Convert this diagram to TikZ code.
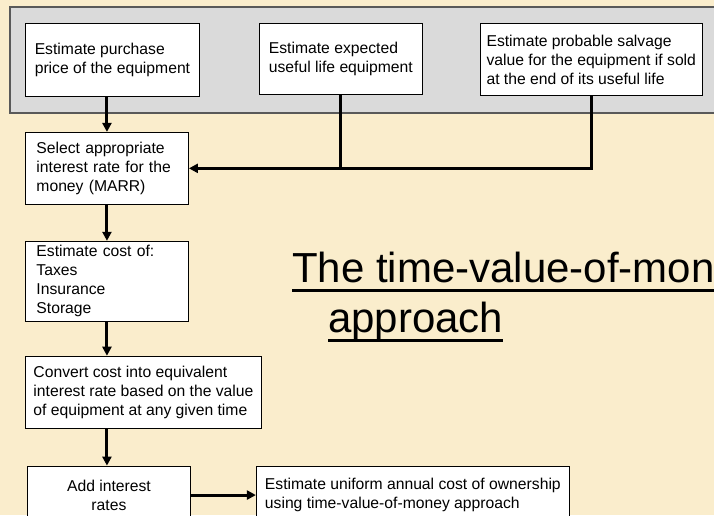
\documentclass[tikz,border=0pt]{standalone}
\usepackage{fontspec}
\setmainfont{Liberation Sans}
\usepackage{tikz}
\usetikzlibrary{arrows.meta,%
                shapes,positioning}
\usetikzlibrary{calc}

\definecolor{paper}{RGB}{250,237,204}
\definecolor{panelgray}{RGB}{218,218,218}
\newsavebox{\ulbox}
\newcommand{\ultext}[1]{\sbox{\ulbox}{#1}\rlap{\rule[-9.5pt]{\wd\ulbox}{3pt}}\usebox{\ulbox}}

\begin{document}
\begin{tikzpicture}[x=1pt, y=-1pt]
  \tikzset{BoxStyle/.style = {draw=black, line width=0.9pt, fill=white, shape=rectangle, inner xsep=6pt, inner ysep=3pt, align=left, anchor=north west, font=\fontsize{15.7}{19}\selectfont}}
  \tikzset{NarrowStyle/.style = {BoxStyle, text width=141pt, inner xsep=11pt}}
  \tikzset{PanelStyle/.style = {draw=black!65, line width=1.5pt, fill=panelgray}}
  \tikzset{TitleStyle/.style = {inner sep=0pt, align=left, anchor=north west, font=\fontsize{42}{50}\selectfont}}
  \tikzset{EdgeStyle/.style = {line width=3pt, -{Triangle[length=9pt, width=9pt]}}}
  \tikzset{LineStyle/.style = {line width=3pt}}

  \useasboundingbox (0,0) rectangle (714,515);
  \clip (0,0) rectangle (714,515);
  \fill[paper] (0,0) rectangle (714,515);
  \draw[PanelStyle] (10,7) rectangle (730,113);

  \node(in1)[BoxStyle, minimum width=174pt, minimum height=73pt] at (25,23)
    {Estimate purchase\\price of the equipment};
  \node(in2)[BoxStyle, minimum width=163pt, minimum height=71pt, right=59pt of in1.north east, anchor=north west]
    {Estimate expected\\useful life equipment};
  \node(in3)[BoxStyle, minimum width=222pt, minimum height=72pt, right=57pt of in2.north east, anchor=north west]
    {Estimate probable salvage\\value for the equipment if sold\\at the end of its useful life};
  \node(select)[NarrowStyle, minimum height=72pt, below=35pt of in1.south west, anchor=north west]
    {Select appropriate\\interest rate for the\\money (MARR)};
  \node(cost)[NarrowStyle, minimum height=80pt, below=36pt of select.south west, anchor=north west]
    {Estimate cost of:\\Taxes\\Insurance\\Storage};
  \node(convert)[BoxStyle, minimum width=236pt, minimum height=72pt, below=34pt of cost.south west, anchor=north west]
    {Convert cost into equivalent\\interest rate based on the value\\of equipment at any given time};
  \node(add)[BoxStyle, align=center, minimum width=163pt, minimum height=58pt, below=37pt of convert.south west, anchor=north west, xshift=2pt]
    {Add interest\\rates};
  \node(uniform)[BoxStyle, minimum width=313pt, minimum height=58pt, right=65pt of add.north east, anchor=north west]
    {Estimate uniform annual cost of ownership\\using time-value-of-money approach};

  \node(title)[TitleStyle] at (292,252)
    {\ultext{The time-value-of-money}\\\hspace*{36pt}\ultext{approach}};

  \draw[EdgeStyle] (select.north |- in1.south) -- (select.north);
  \draw[LineStyle] (in2.south) -- (in2.south |- select.east);
  \draw[EdgeStyle] (in3.south) |- (select.east);
  \draw[EdgeStyle] (select) -- (cost);
  \draw[EdgeStyle] (cost.south) -- (cost.south |- convert.north);
  \draw[EdgeStyle] (cost.south |- convert.south) -- (cost.south |- add.north);
  \draw[EdgeStyle] (add.east) -- (add.east -| uniform.west);

\end{tikzpicture}
\end{document}
